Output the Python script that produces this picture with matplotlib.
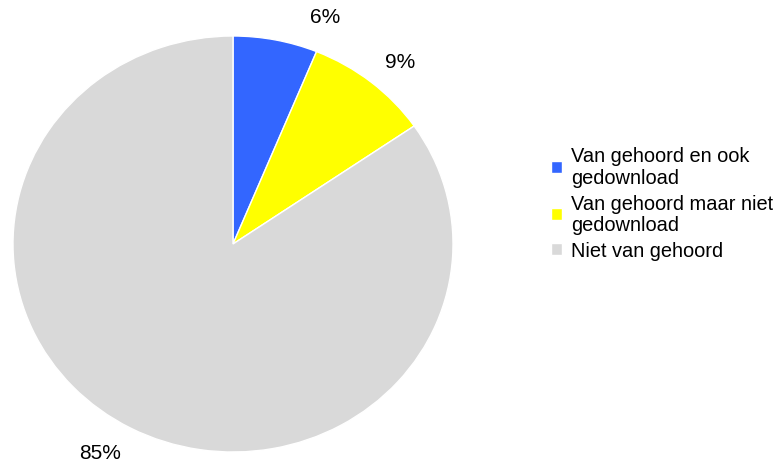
import matplotlib.pyplot as plt
import numpy as np

plt.rcParams['font.family'] = ['Liberation Sans', 'DejaVu Sans']

# gegevens
categories = ['Van gehoord en ook\ngedownload',
              'Van gehoord maar niet\ngedownload',
              'Niet van gehoord']
values = [6.2, 9.2, 84.6]
pct_labels = ['6%', '9%', '85%']
colors = ['#3366FF', '#FFFF00', '#D9D9D9']

fig = plt.figure(figsize=(7.79, 4.64), dpi=100)
# taart is iets uitgerekt (breder dan hoog), zoals in het origineel
ax = fig.add_axes([13 / 779, 11 / 464, 440 / 779, 416 / 464])

wedges, texts = ax.pie(values, colors=colors, startangle=90, counterclock=False,
                       labels=pct_labels, labeldistance=1.17,
                       wedgeprops=dict(edgecolor='white', linewidth=1),
                       textprops=dict(fontsize=15, ha='center', va='center'))
# plaats van de labels (hoek vanaf boven, met de klok mee) zoals in het origineel
label_pos = [(21, 1.17), (41, 1.16), (211, 1.17)]
for t, (a, r) in zip(texts, label_pos):
    t.set_position((np.sin(np.radians(a)) * r, np.cos(np.radians(a)) * r))
    t.set_ha('center')
    t.set_clip_on(False)

ax.set_xlim(-1, 1)
ax.set_ylim(-1, 1)
ax.set_aspect('auto')
ax.axis('off')

leg = fig.legend(wedges, categories, loc='center left',
                 bbox_to_anchor=(533 / 779, (464 - 204) / 464),
                 frameon=False, fontsize=14.4, handlelength=0.55, handleheight=0.55,
                 handletextpad=0.45, labelspacing=0.35)
for t in leg.get_texts():
    t.set_linespacing(1.17)

fig.savefig('out.png', dpi=100)
